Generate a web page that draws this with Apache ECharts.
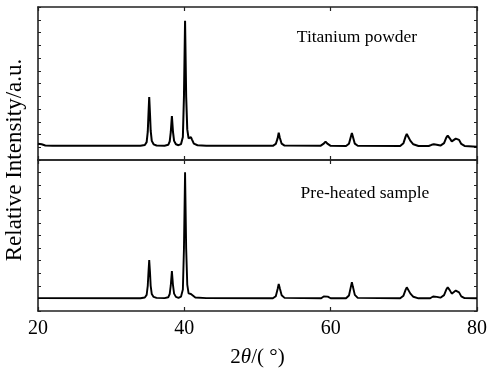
<!DOCTYPE html>
<html>
<head>
<meta charset="utf-8">
<script src="https://cdn.jsdelivr.net/npm/echarts@6/dist/echarts.min.js"></script>
<style>
  html, body { margin: 0; padding: 0; background: #fff; }
  #chart { width: 494px; height: 374px; }
</style>
</head>
<body>
<div id="chart"></div>
<script>
// XRD patterns, [2theta, intensity in a.u.]
const powderPattern = [
  [20, 12.8], [20.5, 12.3], [21, 11.4], [22, 11.2], [30, 11.1], [34, 11.1],
  [34.6, 11.8], [34.85, 14], [35.0, 22], [35.1, 36], [35.2, 49.4], [35.3, 37],
  [35.4, 23], [35.55, 15], [35.8, 12.3], [36.2, 11.4], [37.3, 11.2], [37.8, 11.9],
  [38.0, 14.5], [38.15, 22], [38.3, 34.5], [38.45, 22], [38.6, 15], [38.85, 12.3],
  [39.2, 11.6], [39.55, 12.5], [39.8, 18], [39.95, 50], [40.1, 109.3], [40.25, 50],
  [40.4, 24], [40.58, 17], [40.75, 16.8], [40.9, 18], [41.05, 16], [41.3, 12.8],
  [41.8, 11.6], [43, 11.2], [52.1, 11.1], [52.5, 12.6], [52.75, 17], [52.9, 21.4],
  [53.05, 17.5], [53.3, 12.8], [53.7, 11.3], [58.6, 11.1], [59.0, 12.6], [59.3, 14.4],
  [59.6, 12.6], [60, 11.1], [62.1, 11], [62.5, 12.8], [62.75, 18], [62.9, 21.2],
  [63.05, 18], [63.3, 12.8], [63.7, 11.2], [69.5, 11], [69.95, 13.2], [70.25, 18.5],
  [70.4, 20.4], [70.6, 19], [70.9, 15], [71.3, 12.3], [72, 11], [73.4, 11],
  [73.8, 11.9], [74.1, 12.3], [74.5, 11.9], [75, 11.3], [75.5, 13.2], [75.8, 17.5],
  [76.0, 19.1], [76.25, 17.2], [76.55, 14.6], [76.8, 15], [77.1, 16.8], [77.3, 17.5],
  [77.55, 15.8], [77.85, 12.6], [78.3, 11], [80, 10.4]
];

const preheatedPattern = [
  [20, 10.2], [34, 10.1], [34.6, 10.7], [34.85, 12.8], [35.0, 20], [35.1, 31],
  [35.2, 40.5], [35.3, 31.5], [35.4, 20], [35.55, 13.5], [35.8, 11.2], [36.2, 10.4],
  [37.3, 10.2], [37.8, 10.9], [38.0, 13.5], [38.15, 20.5], [38.3, 31.8], [38.45, 20.5],
  [38.6, 13.8], [38.85, 11.2], [39.2, 10.5], [39.55, 11.5], [39.8, 17], [39.95, 50],
  [40.1, 110.3], [40.25, 50], [40.4, 21], [40.58, 14], [40.75, 13.2], [40.9, 13.5],
  [41.1, 12.3], [41.5, 10.7], [43, 10.2], [52.1, 10.1], [52.5, 11.8], [52.75, 17.5],
  [52.9, 21.5], [53.05, 18], [53.3, 12.5], [53.7, 10.4], [58.7, 10.1], [59.05, 11.5],
  [59.3, 12.5], [59.6, 11.4], [60, 10.1], [62.1, 10.1], [62.5, 12.3], [62.75, 19],
  [62.9, 22.8], [63.05, 19], [63.3, 12.8], [63.7, 10.4], [69.5, 10.1], [69.95, 12.2],
  [70.25, 17], [70.4, 18.8], [70.6, 17.5], [70.9, 13.8], [71.3, 11.3], [72, 10.1],
  [73.6, 10.1], [74.0, 11.5], [74.2, 11.9], [74.5, 11.2], [75, 10.6], [75.5, 12.6],
  [75.8, 17], [76.0, 18.8], [76.25, 16.8], [76.55, 13.8], [76.8, 14.2], [77.1, 16.2],
  [77.3, 16.7], [77.55, 14.8], [77.85, 11.6], [78.3, 10.2], [80, 10.1]
];

const panelNames = ['Titanium powder', 'Pre-heated sample'];
const xTicks = [20, 40, 60, 80];

const FONT = "'Liberation Serif', 'Times New Roman', serif";
const lineStyle = { color: '#222', width: 1.6 };

const chart = echarts.init(document.getElementById('chart'));

function xAx(gridIndex, position, showLabel) {
  return {
    type: 'value', gridIndex: gridIndex, position: position,
    min: 20, max: 80, interval: 20,
    axisLine: { show: true, onZero: false, lineStyle: lineStyle },
    axisTick: { show: true, inside: true, length: 4, lineStyle: { color: '#222', width: 1.2 } },
    axisLabel: {
      show: showLabel, color: '#000', fontFamily: FONT, fontSize: 20, margin: 8,
      formatter: v => xTicks.indexOf(v) >= 0 ? String(v) : ''
    },
    splitLine: { show: false }
  };
}

function yAx(gridIndex, position) {
  return {
    type: 'value', gridIndex: gridIndex, position: position,
    min: 0, max: 120, interval: 10,
    axisLine: { show: true, onZero: false, lineStyle: lineStyle },
    axisTick: { show: true, inside: true, length: 3, lineStyle: { color: '#222', width: 1 } },
    axisLabel: { show: false },
    splitLine: { show: false }
  };
}

const bottomX = xAx(1, 'bottom', true);
bottomX.name = '2{i|θ}/( °)';
bottomX.nameLocation = 'middle';
bottomX.nameGap = 36;
bottomX.nameTextStyle = {
  color: '#000', fontFamily: FONT, fontSize: 21,
  rich: { i: { fontFamily: FONT, fontSize: 21, fontStyle: 'italic', color: '#000' } }
};

const option = {
  animation: false,
  backgroundColor: '#fff',
  grid: [
    { left: 38, right: 17, top: 7, height: 153 },
    { left: 38, right: 17, top: 160, height: 151 }
  ],
  xAxis: [
    xAx(0, 'bottom', false),
    bottomX,
    xAx(0, 'top', false),
    xAx(1, 'top', false)
  ],
  yAxis: [
    yAx(0, 'left'),
    yAx(1, 'left'),
    yAx(0, 'right'),
    yAx(1, 'right')
  ],
  graphic: [
    {
      type: 'text', x: 15, y: 160, rotation: Math.PI / 2,
      style: {
        text: 'Relative Intensity/a.u.', font: '23px ' + FONT, fill: '#000',
        textAlign: 'center', textVerticalAlign: 'middle', align: 'center', verticalAlign: 'middle'
      }
    },
    {
      type: 'text', x: 357, y: 37,
      style: {
        text: panelNames[0], font: '17.5px ' + FONT, fill: '#000',
        textAlign: 'center', textVerticalAlign: 'middle', align: 'center', verticalAlign: 'middle'
      }
    },
    {
      type: 'text', x: 365, y: 193,
      style: {
        text: panelNames[1], font: '17.5px ' + FONT, fill: '#000',
        textAlign: 'center', textVerticalAlign: 'middle', align: 'center', verticalAlign: 'middle'
      }
    }
  ],
  series: [
    {
      name: panelNames[0], type: 'line', xAxisIndex: 0, yAxisIndex: 0,
      data: powderPattern, showSymbol: false, symbol: 'none',
      lineStyle: { color: '#000', width: 2 }
    },
    {
      name: panelNames[1], type: 'line', xAxisIndex: 1, yAxisIndex: 1,
      data: preheatedPattern, showSymbol: false, symbol: 'none',
      lineStyle: { color: '#000', width: 1.9 }
    }
  ]
};

chart.setOption(option);
</script>
</body>
</html>
